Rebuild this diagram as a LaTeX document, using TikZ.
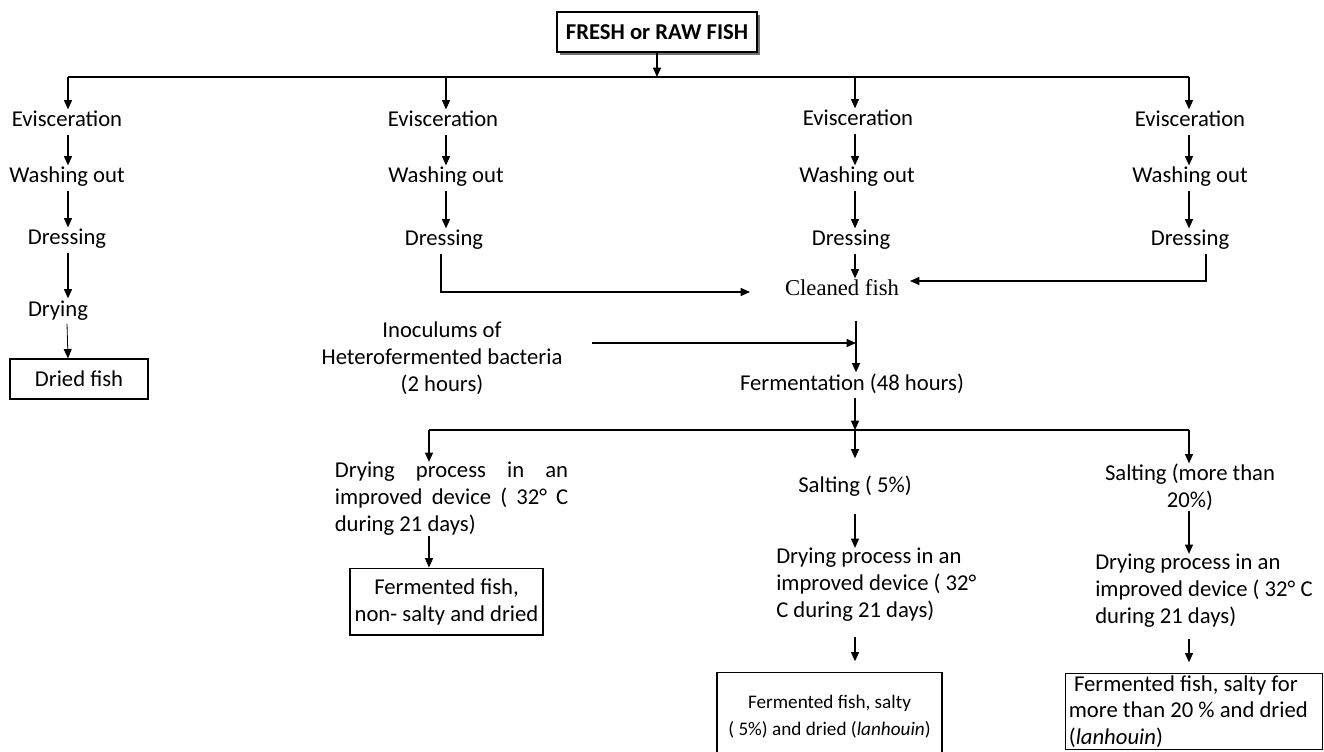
\documentclass[tikz,border=0pt]{standalone}
\usepackage{fontspec}
\setmainfont{Carlito}
\newfontfamily\tnr{Liberation Serif}
\usetikzlibrary{arrows.meta,shadows,calc}
\newcommand\fs{\fontsize{17}{20.3}\selectfont}
\newcommand\fsm{\fontsize{14.4}{20.3}\selectfont}
\newcommand\fsr{\fontsize{17}{19.6}\selectfont}
\begin{document}
\begin{tikzpicture}[x=0.75pt,y=-0.75pt,
 every node/.style={font=\fs, inner sep=0pt},
 lbl/.style={text height=11pt, text depth=3.5pt, inner sep=2pt},
 arr/.style={draw, line width=1pt, -{Triangle[length=7pt,width=6pt]}},
 ln/.style={draw, line width=1pt},
 box/.style={draw, line width=1pt}]
\useasboundingbox (0,0) rectangle (1324,752);
\clip (0,0) rectangle (1324,752);

% top
\node[box, font=\fs\bfseries, fill=white, minimum width=150pt, minimum height=30pt,
  drop shadow={shadow xshift=2.5pt, shadow yshift=-2.5pt, fill=black!55, opacity=1}]
  (top) at (657,32) {FRESH or RAW FISH};
\coordinate (hL) at (68,77);
\coordinate (hR) at (1189,77);
\coordinate (c1) at (68,77);
\coordinate (c2) at (446,77);
\coordinate (c3) at (855,77);
\coordinate (c4) at (1189,77);
\draw[ln] (hL) -- (hR);
\draw[arr] (top.south) -- (top.south |- hL);

% column 1
\node[lbl] (ev1) at (67,122) {Evisceration};
\node[lbl] (wa1) at (67,178) {Washing out};
\node[lbl] (dr1) at (67,240) {Dressing};
\node[lbl] (dy1) at (58,311) {Drying};
\node[box, minimum width=103.5pt, minimum height=30pt] (df) at (79,379) {Dried fish};
\draw[arr] (c1) -- (c1 |- ev1.north);
\draw[arr] (ev1.south -| c1) -- (wa1.north -| c1);
\draw[arr] (wa1.south -| c1) -- (dr1.north -| c1);
\draw[arr] (dr1.south -| c1) -- (dy1.north -| c1);
\draw[arr, line width=0.6pt] ($(dy1.south)+(9,0)$) -- (df.north -| c1);

% column 2
\node[lbl] (ev2) at (443,122) {Evisceration};
\node[lbl] (wa2) at (446,178) {Washing out};
\node[lbl] (dr2) at (444,241) {Dressing};
\draw[arr] (c2) -- (c2 |- ev2.north);
\draw[arr] (ev2.south -| c2) -- (wa2.north -| c2);
\draw[arr] (wa2.south -| c2) -- (dr2.north -| c2);
\coordinate (cf2) at (750,292);
\draw[arr] ($(dr2.south)+(-3,0)$) |- (cf2);

% column 3
\node[lbl] (ev3) at (858,121) {Evisceration};
\node[lbl] (wa3) at (857,178) {Washing out};
\node[lbl] (dr3) at (851,241) {Dressing};
\node[lbl, font=\fs\tnr] (clean) at (842,291) {Cleaned fish};
\draw[arr] (c3) -- (c3 |- ev3.north);
\draw[arr] (ev3.south -| c3) -- (wa3.north -| c3);
\draw[arr] (wa3.south -| c3) -- (dr3.north -| c3);
\draw[arr] (dr3.south -| c3) -- (clean.north -| c3);

% column 4
\node[lbl] (ev4) at (1190,122) {Evisceration};
\node[lbl] (wa4) at (1190,178) {Washing out};
\node[lbl] (dr4) at (1190,241) {Dressing};
\draw[arr] (c4) -- (c4 |- ev4.north);
\draw[arr] (ev4.south -| c4) -- (wa4.north -| c4);
\draw[arr] (wa4.south -| c4) -- (dr4.north -| c4);
\coordinate (cf4) at (910,281);
\draw[arr] ($(dr4.south)+(16,0)$) |- (cf4);

% inoculum and fermentation
\node[align=center] (ino) at (442,358) {Inoculums of\\Heterofermented bacteria\\(2 hours)};
\node[lbl] (ferm) at (852,385) {Fermentation (48 hours)};
\coordinate (jn) at (856,343);
\draw[arr] ($(clean.south -| jn)+(0,17)$) -- (ferm.north -| jn);
\draw[arr] ($(ino.east |- jn)+(29,0)$) -- (jn);

\coordinate (fL) at (429,430);
\coordinate (fM) at (855,430);
\coordinate (fR) at (1189,430);
\draw[ln] (fL) -- (fR);
\draw[arr] (ferm.south -| fM) -- (fM);

% left branch
\node[text width=175pt, align=justify] (dp1) at (451.5,499)
  {Drying process in an\linebreak improved device ( 32° C\linebreak during 21 days)};
\node[box, minimum width=144.75pt, minimum height=50pt, align=center] (b1) at (446.5,601.5)
  {Fermented fish,\\non- salty and dried};
\draw[arr] (fL) -- (fL |- dp1.north);
\draw[arr] (dp1.south -| fL) -- (b1.north -| fL);

% middle branch
\node[lbl] (salt2) at (855,487) {Salting ( 5\%)};
\node[align=flush left, anchor=west] (dp2) at (776,585)
  {Drying process in an\\improved device ( 32°\\C during 21 days)};
\node[box, font=\fsm, anchor=north, minimum width=168.75pt, minimum height=66pt, align=center] (b2) at (829.5,672)
  {Fermented fish, salty\\( 5\%) and dried (\textit{lanhouin})};
\draw[arr, shorten >=12pt] (fM) -- (salt2.north -| fM);
\draw[arr, shorten <=11pt] (salt2.south -| fM) -- (dp2.north -| fM);
\draw[arr, shorten <=11pt, shorten >=8pt] (dp2.south -| fM) -- (b2.north -| fM);

% right branch
\node[align=center] (salt3) at (1190,487) {Salting (more than\\20\%)};
\node[align=flush left, anchor=west] (dp3) at (1095,591)
  {Drying process in an\\improved device ( 32° C\\during 21 days)};
\node[box, font=\fsr, anchor=north west, text width=188pt, inner xsep=2.4pt, inner ysep=0pt,
  minimum height=57pt, align=flush left] (b3) at (1065,673)
  {\ Fermented fish, salty for\\more than 20 \% and dried\\(\textit{lanhouin})};
\draw[arr] (fR) -- (salt3.north -| fR);
\draw[arr] (salt3.south -| fR) -- (dp3.north -| fR);
\draw[arr, shorten <=8pt, shorten >=8pt] (dp3.south -| fR) -- (b3.north -| fR);
\end{tikzpicture}
\end{document}
